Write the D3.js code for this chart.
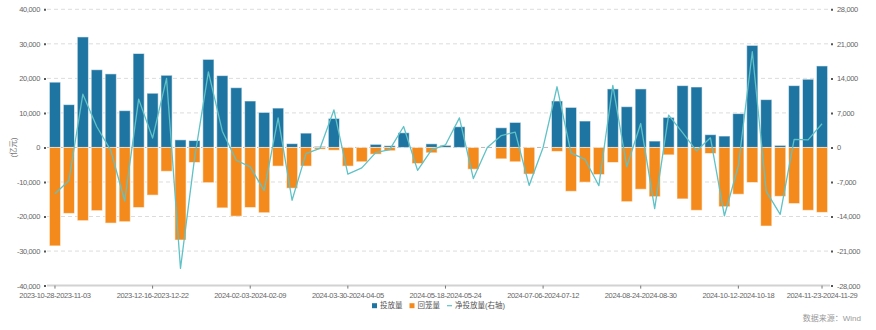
<!DOCTYPE html>
<html>
<head>
<meta charset="utf-8">
<script src="https://cdn.jsdelivr.net/npm/d3@7"></script>
<style>
    body { margin: 0; background: #fff; }
    svg { display: block; font-family: "Liberation Sans", Arial, "Noto Sans CJK SC", sans-serif; }
</style>
</head>
<body>
<svg></svg>
<script>
'use strict';

// weekly periods, Saturday to Friday
var weeks = [
    "2023-10-28-2023-11-03", "2023-11-04-2023-11-10", "2023-11-11-2023-11-17", "2023-11-18-2023-11-24",
    "2023-11-25-2023-12-01", "2023-12-02-2023-12-08", "2023-12-09-2023-12-15", "2023-12-16-2023-12-22",
    "2023-12-23-2023-12-29", "2023-12-30-2024-01-05", "2024-01-06-2024-01-12", "2024-01-13-2024-01-19",
    "2024-01-20-2024-01-26", "2024-01-27-2024-02-02", "2024-02-03-2024-02-09", "2024-02-17-2024-02-23",
    "2024-02-24-2024-03-01", "2024-03-02-2024-03-08", "2024-03-09-2024-03-15", "2024-03-16-2024-03-22",
    "2024-03-23-2024-03-29", "2024-03-30-2024-04-05", "2024-04-06-2024-04-12", "2024-04-13-2024-04-19",
    "2024-04-20-2024-04-26", "2024-04-27-2024-05-03", "2024-05-04-2024-05-10", "2024-05-11-2024-05-17",
    "2024-05-18-2024-05-24", "2024-05-25-2024-05-31", "2024-06-01-2024-06-07", "2024-06-08-2024-06-14",
    "2024-06-15-2024-06-21", "2024-06-22-2024-06-28", "2024-06-29-2024-07-05", "2024-07-06-2024-07-12",
    "2024-07-13-2024-07-19", "2024-07-20-2024-07-26", "2024-07-27-2024-08-02", "2024-08-03-2024-08-09",
    "2024-08-10-2024-08-16", "2024-08-17-2024-08-23", "2024-08-24-2024-08-30", "2024-08-31-2024-09-06",
    "2024-09-07-2024-09-13", "2024-09-14-2024-09-20", "2024-09-21-2024-09-27", "2024-09-28-2024-10-04",
    "2024-10-05-2024-10-11", "2024-10-12-2024-10-18", "2024-10-19-2024-10-25", "2024-10-26-2024-11-01",
    "2024-11-02-2024-11-08", "2024-11-09-2024-11-15", "2024-11-16-2024-11-22", "2024-11-23-2024-11-29"
];

// 投放量 (亿元)
var injection = [
    18900, 12400, 32000, 22500, 21300, 10650, 27200, 15700, 20900, 2200,
    2000, 25500, 20800, 17300, 13450, 10150, 11400, 1100, 4150, 300,
    8400, 0, 0, 900, 500, 4250, 0, 1050, 600, 6000,
    0, 0, 5700, 7250, 0, 0, 13450, 11600, 7650, 100,
    16950, 11800, 16950, 1850, 8700, 17900, 17500, 3700, 3300, 9800,
    29550, 13850, 600, 17900, 19750, 23600
];

// 回笼量 (亿元)
var withdrawal = [
    -28500, -19100, -21200, -18300, -21900, -21500, -17400, -13800, -6900, -26800,
    -4350, -10200, -17500, -19900, -17400, -18900, -5400, -11800, -5400, -500,
    -800, -5400, -4150, -1950, -950, 0, -4650, -1550, -100, 0,
    -6300, 0, -3300, -4150, -7700, 0, -1150, -12700, -10050, -7850,
    -4350, -15700, -12100, -14250, -2150, -14900, -18200, -1750, -17150, -13550,
    -10150, -22750, -14150, -16250, -18200, -18800
];

// 净投放量, right axis (亿元)
var netInjection = [
    -9400, -6700, 10800, 4200, -600, -10850, 9800, 1900, 14000, -24500,
    -2350, 15300, 3300, -2600, -3950, -8750, 6000, -10700, -1250, -200,
    7600, -5400, -4150, -1050, -450, 4250, -4650, -500, 500, 6000,
    -6300, 0, 2400, 3100, -7700, 0, 12300, -1100, -2400, -7750,
    12600, -3900, 4850, -12400, 6550, 3000, -700, 1950, -13850, -3750,
    19400, -8900, -13550, 1650, 1550, 4800
];

var leftTicks = [40000, 30000, 20000, 10000, 0, -10000, -20000, -30000, -40000];
var rightTicks = [28000, 21000, 14000, 7000, 0, -7000, -14000, -21000, -28000];
var seriesNames = ["投放量", "回笼量", "净投放量(右轴)"];
var unitLabel = "(亿元)";
var sourceLabel = "数据来源：Wind";

var BLUE = "#1f75a2";
var ORANGE = "#f58a1c";
var TEAL = "#5fc2c6";

var svgWidth = 876,
    svgHeight = 330;
var margin = { top: 9.3, right: 47, bottom: 44.4, left: 48 };
var plotRight = svgWidth - margin.right;
var plotBottom = svgHeight - margin.bottom;

var svg = d3.select("svg")
    .attr("width", svgWidth)
    .attr("height", svgHeight);

var x = d3.scaleBand()
    .domain(weeks)
    .range([margin.left, plotRight])
    .paddingInner(0.2)
    .paddingOuter(0.1);

var y = d3.scaleLinear().domain([-40000, 40000]).range([plotBottom, margin.top]);
var y2 = d3.scaleLinear().domain([-28000, 28000]).range([plotBottom, margin.top]);

var fmt = d3.formatLocale({ decimal: ".", thousands: ",", grouping: [3], currency: ["", ""], minus: "-" }).format(",");

// dashed grid
svg.append("g")
    .attr("class", "grid")
    .selectAll("line")
    .data(leftTicks.filter(function (d) { return d !== -40000 }))
    .enter().append("line")
    .attr("x1", margin.left - 1)
    .attr("x2", plotRight + 1)
    .attr("y1", function (d) { return y(d) })
    .attr("y2", function (d) { return y(d) })
    .attr("stroke", function (d) { return d === 0 ? "#b8b8b8" : "#dcdcdc" })
    .attr("stroke-width", 1)
    .attr("stroke-dasharray", "4,3");

// bars
var bars = svg.append("g").attr("class", "bars");

bars.selectAll(".inj")
    .data(injection)
    .enter().append("rect")
    .attr("class", "inj")
    .attr("x", function (d, i) { return x(weeks[i]) })
    .attr("y", function (d) { return y(d) })
    .attr("width", x.bandwidth())
    .attr("height", function (d) { return y(0) - y(d) })
    .attr("fill", BLUE)
    .attr("stroke", "#ffffff")
    .attr("stroke-opacity", 0.55)
    .attr("stroke-width", 1)
    .style("display", function (d) { return d === 0 ? "none" : null });

bars.selectAll(".wd")
    .data(withdrawal)
    .enter().append("rect")
    .attr("class", "wd")
    .attr("x", function (d, i) { return x(weeks[i]) })
    .attr("y", y(0))
    .attr("width", x.bandwidth())
    .attr("height", function (d) { return y(d) - y(0) })
    .attr("fill", ORANGE)
    .attr("stroke", "#ffffff")
    .attr("stroke-opacity", 0.55)
    .attr("stroke-width", 1)
    .style("display", function (d) { return d === 0 ? "none" : null });

// net line on right axis
var netLine = d3.line()
    .x(function (d, i) { return x(weeks[i]) + x.bandwidth() / 2 })
    .y(function (d) { return y2(d) });

svg.append("path")
    .datum(netInjection)
    .attr("fill", "none")
    .attr("stroke", TEAL)
    .attr("stroke-width", 1.3)
    .attr("stroke-linejoin", "round")
    .attr("d", netLine);

// axes
function styleAxis(g) {
    g.select(".domain").remove();
    g.selectAll(".tick line").attr("stroke", "#555").attr("stroke-width", 2);
    g.selectAll(".tick text")
        .attr("fill", "#666")
        .style("font-size", "7.5px")
        .style("letter-spacing", "-0.35px");
}

svg.append("g")
    .attr("class", "axis y")
    .attr("transform", "translate(" + (margin.left - 2) + ",0)")
    .call(d3.axisLeft(y).tickValues(leftTicks).tickFormat(fmt).tickSize(2).tickPadding(4))
    .call(styleAxis);

svg.append("g")
    .attr("class", "axis y2")
    .attr("transform", "translate(" + (plotRight + 2) + ",0)")
    .call(d3.axisRight(y2).tickValues(rightTicks).tickFormat(fmt).tickSize(2).tickPadding(4))
    .call(styleAxis);

var xAxis = svg.append("g")
    .attr("class", "axis x")
    .attr("transform", "translate(0," + plotBottom + ")")
    .call(d3.axisBottom(x)
        .tickValues(weeks.filter(function (d, i) { return i % 7 === 0 || i === weeks.length - 1 }))
        .tickSize(3)
        .tickSizeOuter(0)
        .tickPadding(3.8));

xAxis.select(".domain")
    .attr("stroke", "#d2d2d2")
    .attr("stroke-width", 2)
    .attr("d", "M" + (margin.left - 1) + ",0H" + (plotRight + 1));
xAxis.selectAll(".tick line").attr("stroke", "#777").attr("stroke-width", 1);
xAxis.selectAll(".tick text")
    .attr("fill", "#666")
    .style("font-size", "7.5px")
    .style("letter-spacing", "-0.35px");

// unit title
svg.append("text")
    .attr("transform", "translate(16," + y(0) + ") rotate(-90)")
    .attr("text-anchor", "middle")
    .attr("fill", "#777")
    .style("font-size", "7.5px")
    .text(unitLabel);

// legend
var legend = svg.append("g").attr("class", "legend");
var lx = 0;
seriesNames.forEach(function (name, i) {
    var item = legend.append("g").attr("transform", "translate(" + lx + ",0)");
    if (i < 2) {
        item.append("rect")
            .attr("x", 0).attr("y", -2.5)
            .attr("width", 5).attr("height", 5)
            .attr("fill", i === 0 ? BLUE : ORANGE);
    } else {
        item.append("line")
            .attr("x1", 0).attr("x2", 5)
            .attr("y1", 0).attr("y2", 0)
            .attr("stroke", TEAL)
            .attr("stroke-width", 1.2);
    }
    var t = item.append("text")
        .attr("x", 8)
        .attr("dy", "0.35em")
        .attr("fill", "#555")
        .style("font-size", "7.5px")
        .text(name);
    lx += 8 + t.node().getComputedTextLength() + 7;
});
var legendWidth = lx - 7;
legend.attr("transform", "translate(" + ((margin.left + plotRight) / 2 - legendWidth / 2) + ",305.7)");

// source
svg.append("text")
    .attr("x", 861)
    .attr("y", 321)
    .attr("text-anchor", "end")
    .attr("fill", "#999")
    .style("font-size", "8px")
    .text(sourceLabel);
</script>
</body>
</html>
